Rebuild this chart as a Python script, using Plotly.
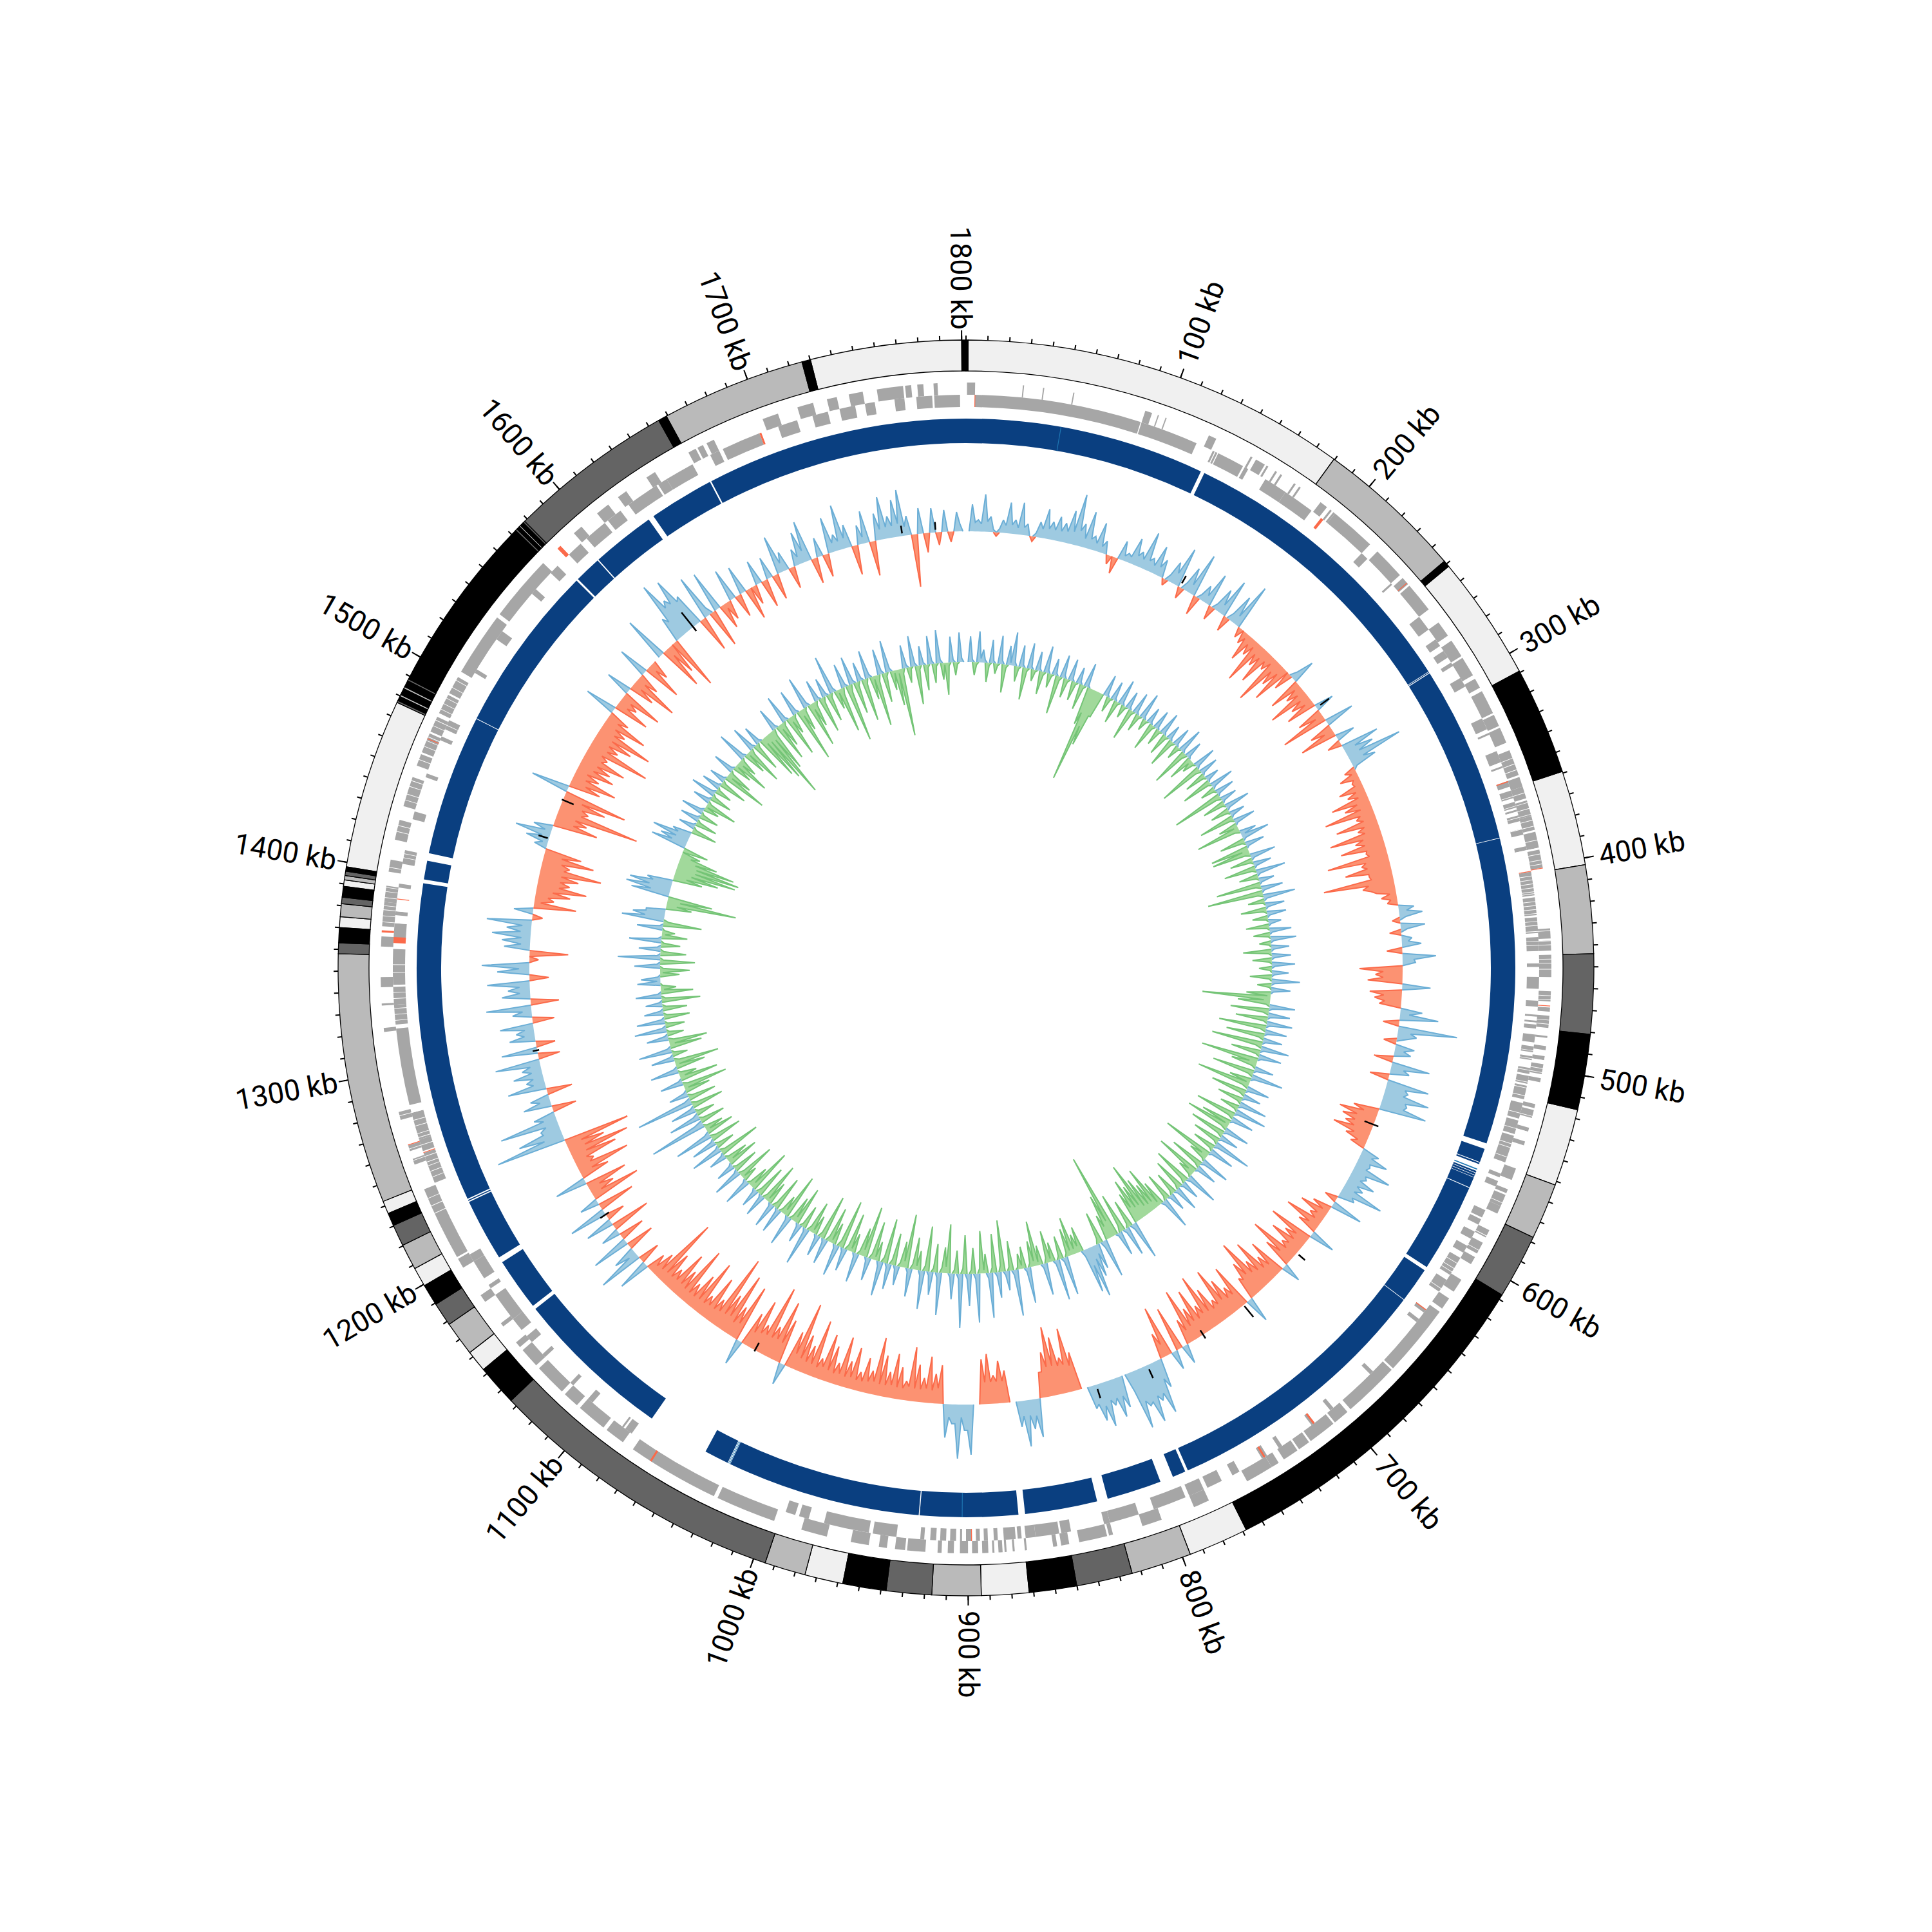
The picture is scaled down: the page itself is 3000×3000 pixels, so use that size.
import math
import plotly.graph_objects as go

GENOME_KB = 1806
TICK_SCALE_KB = 1802
STEP_KB = 2

band_colors = {"n": "#f0f0f0", "g": "#bababa", "d": "#646464", "k": "#000000"}
bands = [
 (0,1,"k"),(1,180,"n"),(180,249,"g"),(249,252,"k"),(252,310,"n"),(310,360,"k"),(360,404,"n"),(404,445,"g"),(445,482,"d"),
 (482,517,"k"),(517,553,"n"),(553,579,"g"),(579,609,"d"),(609,770,"k"),(770,798,"n"),(798,826,"g"),(826,852,"d"),
 (852,874,"k"),(874,896,"n"),(896,918.7,"g"),(918.7,939.7,"d"),(939.7,959.8,"k"),(959.8,977.6,"n"),(977.6,996.6,"g"),
 (996.6,1136,"d"),(1136,1155,"k"),(1155,1165,"n"),(1165,1181,"g"),(1181,1192,"d"),(1192,1202,"k"),(1202,1211,"n"),
 (1211,1223,"g"),(1223,1233,"d"),(1233,1239,"k"),(1239,1245,"n"),(1245,1361,"g"),(1361,1366,"d"),(1366,1373,"k"),
 (1373,1378,"n"),(1378,1384,"g"),(1384,1387,"d"),(1387,1392,"k"),(1392,1395,"n"),(1395,1397,"g"),(1397,1399,"d"),
 (1399,1401,"k"),(1401,1480,"n"),(1480,1481,"d"),(1481,1483,"k"),(1483,1484,"g"),(1484,1487,"k"),(1487,1488,"g"),
 (1488,1491,"k"),(1491,1492,"d"),(1492,1576,"k"),(1576,1577,"d"),(1577,1578.5,"k"),(1578.5,1579.3,"g"),(1579.3,1581,"k"),
 (1581,1582,"d"),(1582,1659,"d"),(1659,1663,"k"),(1663,1730,"g"),(1730,1734,"k"),(1734,1804,"n"),(1804,1806,"k"),
]

gene_plus = [
 (0.5,4.5),(28,28.6),(38,38.6),(53,53.6),(89.5,93),(96,96.6),(100,100.6),(123,127),(146,147),(149,154),(155,156),(160,161),
 (163,164),(171,172),(174,175),(187,191),(193,194),(195,196),(196,219),(224,240),(242,246),(247,262),(270,278),(281,287),
 (286,290),(291,301),(303,308),(310,322),(323,329),(330,338),(342,355),(356,361),(361,367),(368,376),(376,383),(384,392),
 (393,402),(432,437),(438,443),(445,456),(463,468),(471,473),(475,481),(485,486),(490,492),(495,497),(499,504),(506,508),
 (519,521),(522,526),(531,533),(538,540),(552,558),(563,565),(566,572),(572,576),(585,589),(592,598),(600,604),(613,620),
 (624,630),(632,668),(669,697),(699,707),(708,722),(723,729),(730,738),(741,745),(745,759),(780,786),(785,788),(805,815),
 (830,832),(833,847),(852,856),(858,860),(873,874),(879,880),(883,884),(885,887),(889,890),(892,895),(897,900),(902,906),
 (909,912),(915,917),(923,932),(933,938),(942,946),(951,960),(972,985),(999,1029),(1031,1077),(1083,1093),(1095,1110),
 (1112,1120),(1122,1138),(1140,1150),(1152,1155),(1165,1167),(1180,1184),(1200,1205),(1206,1243),(1256,1259),(1263,1266),
 (1279,1283),(1323,1325),(1336,1337),(1345,1350),(1365,1370),(1375,1387),(1387,1395),(1402,1408),(1418,1428),(1435,1450),
 (1456,1462),(1463,1473),(1474,1482),(1484,1494),(1495,1504),(1507,1539),(1541,1574),(1595,1600),(1610,1617),(1623,1628),
 (1640,1645),(1664,1668),(1669,1672),(1674,1678),(1704,1712),(1722,1730),(1737,1742),(1748,1755),(1762,1775),(1776,1779),
 (1782,1785),(1790,1792),
]
gene_minus = [
 (4.5,89),(89.5,119),(128,129),(129.5,130.5),(131,145),(146,148),(158,170),(170,186),(219,223),(240,241),(262,270),(276,280),
 (283,287),(290,292),(299,304),(322,328),(330,331),(340,346),(348,349),(356,359),(361,365),(367,370),(371,372),(374,377),
 (381,384),(390,392),(403,415),(416,425),(426,434),(436,443),(449,451),(456,462),(468,471),(475,476),(478,479),(480,482),
 (485,489),(491,494),(496,498),(502,505),(506,510),(511,518),(520,528),(529,536),(537,551),(557,559),(561,564),(577,581),
 (582,585),(589,593),(597,601),(604,614),(617,624),(635,637),(641,643),(676,678),(703,705),(715,717),(735,737),(744,747),
 (760,764),(770,778),(780,788),(790,807),(815,830),(830,833),(850,855),(856,868),(868,873),(875,877),(878,884),(887,889),
 (892,894),(896,898),(900,903),(905,906),(908,911),(913,916),(918,921),(924,926),(938,950),(952,975),(983,988),(990,995),
 (1082,1086),(1087,1088),(1107,1110),(1120,1122),(1140,1142),(1150,1154),(1158,1165),(1165,1180),(1184,1186),(1190,1200),
 (1200,1204),(1244,1260),(1261,1267),(1267,1281),(1285,1324),(1326,1336),(1336,1345),(1346,1364),(1369,1377),(1381,1383),
 (1395,1397),(1407,1414),(1430,1434),(1452,1454),(1472,1474),(1478,1483),(1510,1512),(1530,1535),(1559,1562),(1573,1578),
 (1586,1594),(1598,1610),(1612,1620),(1625,1642),(1643,1648),(1648,1663),(1673,1678),(1680,1700),(1710,1720),(1728,1736),
 (1742,1750),(1755,1760),(1770,1775),(1781,1789),(1790,1803),
]
trna_plus = [(245,245.4),(402,402.4),(470,470.4),(1066,1067),(1266,1266.4),(1372,1373),(1584,1586),(1470,1470.4)]
trna_minus = [(4.3,4.7),(192,193.5),(356,356.6),(402.6,403),(635,635.5),(715,716),(745,746),(900,900.4),(1367,1370),(1260,1260.4),(1700,1701),(1389,1389.4)]
gene_stripes_kb = [
 346,349,352,364,369,372,375,378,381,388,392,395,398,400,405,407,409,411,413,414,418,420,422,424,428,430,433,438,440,447,449,452,
 465,467,477,479,493,497,501,503,509,512,516,525,533,541,543,548,570,588,596,607,610,612,622,1230,1234,1238,1247,1250,1253,1255,
 1258,1264,1268,1270,1274,1277,1281,1328,1331,1334,1339,1342,1352,1356,1377,1380,1383,1385,1389,1392,1394,1398,1404,1410,1412,
 1422,1425,1438,1441,1445,1448,1459,1466,1469,1471,1477,1480,1486,1489,1492,1498,1502,
]

ring_blocks = [
 (0,127),(129,287.7),(288,288.4),(288.8,382.7),(383,545),(548,555.3),(555.7,556.5),(560.3,561.2),(561.5,562.5),
 (562.8,563.8),(564,569.6),(570,617),(619,637.7),(638,783.5),(785,792),(799,828),(833.7,872),(875.5,927.3),(927.8,1030.5),
 (1032,1045),(1078,1162),(1164,1192),(1195,1228),(1228.6,1229.2),(1229.8,1399),(1401,1411),(1415,1489.7),(1490,1579.5),
 (1580.5,1594.7),(1595.3,1629),(1632,1666.6),(1667.4,1806),
]
ring_marks = [(49.8,50.2),(904.8,905.2),(559,559.6),(1030.7,1031),(1031.4,1031.7)]

# outer signal: one value every 2 kb, blue outward, orange inward
signal_a = [
 0,0,42,14,18,12,58,16,24,4,-6,6,20,12,48,14,22,10,50,12,18,0,-8,6,24,14,46,16,28,16,38,16,30,18,52,20,80,24,36,14,58,16,22,12,46,10,20,0,-14,0,
 -26,0,30,8,14,10,42,16,24,14,60,16,22,12,46,14,28,0,-10,10,34,18,62,0,-18,12,40,14,68,0,-30,8,26,12,52,0,-22,10,38,14,60,0,-24,12,46,14,72,0,-16,0,
 -20,-8,-44,-12,-28,-10,-70,-16,-34,-16,-58,-14,-26,-10,-80,-18,-40,-14,-62,0,-30,12,38,0,-52,-10,-30,-12,-66,-14,-34,-12,-48,0,30,0,-40,-12,-74,0,46,0,-36,-14,-58,0,30,0,-22,0,
 60,18,46,20,88,22,40,6,-18,-8,-30,-10,-14,-12,-40,-14,-30,-14,-60,-20,-42,-18,-78,-22,-30,-20,-66,-22,-34,-24,-82,-30,-44,-30,-70,-30,-32,-28,-96,-36,-44,-36,-72,-36,-36,-34,-110,-40,-50,-38,
 -30,-10,-24,-10,-16,0,24,12,36,10,-12,0,38,10,-18,0,16,10,30,0,-24,0,52,18,20,0,-67,-30,-42,-30,-54,0,44,0,-50,-28,-42,-26,-34,0,34,14,60,0,-25,0,92,20,30,14,
 -20,0,30,14,26,0,-30,0,60,20,30,0,-30,0,66,30,36,30,72,36,40,36,74,0,-40,-22,-60,-30,-52,-30,-44,-28,-60,-24,-36,-14,-24,0,28,18,46,20,22,18,60,22,26,18,44,18,
 30,18,68,20,26,0,-20,0,50,0,-30,-10,-46,-14,-24,-12,-60,-16,-32,0,40,0,-70,-20,-38,-18,-56,-20,-30,-18,-78,-22,-46,0,30,0,-60,-20,-40,-22,-76,-26,-48,-30,-90,-34,-58,-30,-36,0,
 40,0,-70,-24,-40,-24,-60,-28,-84,-26,-36,-24,-62,-26,-90,-28,-44,-24,-76,-26,-50,-22,-86,-20,-40,0,30,0,-70,0,30,0,-80,-20,-40,0,46,30,84,50,60,50,90,56,60,50,92,30,0,0,
 50,30,62,30,40,30,70,36,58,30,36,0,0,0,-60,-40,-100,-44,-56,-44,-90,-46,-108,-46,-70,-40,-40,0,60,26,46,24,72,24,40,0,0,0,-50,-34,-66,-34,-44,-34,-78,-34,-70,0,0,0,
 78,40,40,20,84,30,30,20,52,0,-60,-24,-46,-20,-72,-22,-38,-20,-58,-20,-84,-22,-30,-18,-50,-18,-70,-20,-40,-18,-64,-18,-90,-20,-36,-18,-54,-16,-30,-16,-66,-18,-42,-16,-78,-18,-34,-16,-58,-18,
 -74,-20,-32,-16,-90,-18,-46,-18,-60,-20,-108,-24,-58,0,34,0,-70,-30,-96,-32,-50,-30,-112,-30,-44,-28,-80,-24,-54,0,40,0,-90,-24,-50,-20,-100,-26,-60,-24,-120,-22,-40,-20,-72,-20,-34,-18,-88,-18,
 -58,-16,-36,-16,-92,-16,-46,-18,-70,-18,-34,-16,-56,-16,-110,-14,-40,-12,-30,0,50,0,-34,0,70,12,36,0,-44,0,60,0,-40,0,30,0,-62,0,44,0,-30,0,60,0,-58,0,30,0,-78,-16,
 -40,-18,-66,0,50,0,-46,-20,-84,-22,-30,-20,-72,-24,-96,-26,-60,-24,-104,0,110,30,70,28,30,20,92,20,34,0,-38,0,44,16,30,0,-40,0,60,18,28,16,46,16,30,16,70,0,-34,0,
 56,0,-30,0,40,16,28,14,52,0,-34,0,30,14,70,0,-44,0,44,16,34,16,66,0,-30,0,50,16,74,0,-14,0,-60,0,40,14,44,14,60,16,38,14,70,0,-16,0,30,0,-66,-10,
 -30,-20,-54,-26,-78,-34,-50,-34,-62,-34,-96,-36,-44,-30,-80,-28,-58,0,20,8,36,12,56,10,30,0,-70,-30,-50,-30,-130,-36,-46,-34,-70,-30,-100,0,60,0,-50,-24,-72,-20,-40,-18,-60,-24,-50,-26,
 -70,-28,-36,-24,-100,-28,-44,-26,-62,-26,-90,-24,-40,-20,-70,-18,-34,0,50,0,-56,-16,-30,-16,-66,0,40,0,-40,-14,-74,-14,-34,0,48,0,-60,-12,-30,0,0,0,70,0,-70,-14,-50,0,-84,0,
 40,30,96,50,60,50,88,46,52,0,-56,0,70,12,-60,0,64,0,-40,-8,-30,0,50,0,-36,0,44,0,-50,0,-30,0,38,0,-44,0,34,0,-40,0,60,14,30,0,-34,0,26,12,50,18,
 64,0,-40,0,30,0,-36,0,56,14,26,14,70,16,36,0,-46,0,30,10,50,0,-54,0,42,16,66,18,34,18,58,20,72,14,30,0,-82,0,40,0,-30,0,38,0,-20,0,34,0,-16,0,
 30,12,0,
]
# inner signal: one value every 2 kb, blue outward, green inward
signal_b = [
 0,0,40,4,-20,-4,48,6,20,4,-30,-4,36,4,-16,-3,44,6,-44,-5,30,4,52,6,-24,-4,34,4,-50,-5,40,4,-18,-3,30,4,-36,-5,42,5,-22,-3,26,4,-60,-6,36,5,-30,-4,
 34,4,-30,-4,26,4,-40,-5,38,3,-60,-40,-150,-60,-90,-40,-40,0,34,4,-24,-3,30,4,-36,-4,40,5,-20,-3,28,4,-50,-5,34,4,-28,-4,42,5,-18,-3,26,4,-44,-5,30,4,-26,-3,
 36,5,-34,-4,24,4,-46,-5,30,4,-22,-3,40,5,-60,-8,28,4,-40,-6,-20,-3,36,5,-70,-8,30,4,-34,-4,22,4,-48,-5,38,5,-24,-3,30,4,-80,-8,26,4,-36,-4,40,5,-30,-4,
 24,4,-56,-6,34,4,-30,-6,-70,-8,26,6,44,5,-40,-5,30,4,-60,-10,-60,-8,40,5,-36,-4,28,4,-50,-6,46,5,-30,-4,24,4,-70,-8,34,4,-87,-8,50,5,-26,-3,30,4,-40,-5,
 30,4,-24,-3,20,4,-36,-4,34,4,-26,-3,40,5,-18,-3,28,4,-44,-5,30,4,-30,-4,36,5,-20,-3,26,4,-34,-4,44,5,-22,-3,30,4,-38,-5,-106,-10,-50,-6,40,5,-60,-8,34,4,
 -50,-6,40,5,-74,-8,34,4,-60,-8,30,4,-80,-10,44,5,-46,-6,36,5,-90,-12,-40,-6,30,4,-66,-8,50,5,-34,-5,-84,-10,36,4,-56,-8,28,4,-40,-6,44,5,-30,-5,50,5,-64,-8,
 36,4,-48,-6,-70,-10,40,5,-56,-8,30,4,-44,-6,60,6,-36,-5,40,5,-80,-10,-30,-5,46,5,-54,-8,34,4,-70,-10,-26,-4,52,6,-60,-8,30,4,-50,-8,40,5,-36,-6,28,4,-44,-6,
 50,6,-40,-6,-70,-12,-46,-12,-60,-14,-90,-20,-56,-20,-70,-24,-50,0,60,8,-44,-6,46,6,-62,-10,38,4,-134,-26,-70,-20,-40,0,60,10,-50,-8,40,14,50,20,80,28,70,10,-40,-10,-30,-8,
 -60,-8,-44,-6,60,6,-36,-5,64,6,-30,-5,-50,-8,50,6,-30,-5,-70,-8,-40,-6,56,6,-34,-5,-24,-3,72,8,-46,-6,30,6,-80,-10,40,6,-60,-8,70,8,-30,-5,-66,-8,76,8,-40,-6,
 50,8,-60,-8,84,8,-36,-6,40,6,-76,-10,-40,-8,66,8,-44,-6,36,6,-70,-8,60,8,-30,-6,-50,-8,44,6,-84,-10,-40,-6,30,6,-50,-8,40,6,-70,-8,54,8,-30,-5,-60,-8,36,6,
 -80,-10,-44,-6,46,6,-30,-5,-60,-8,36,6,-76,-10,50,6,-34,-5,-56,-8,40,6,-70,-8,34,5,-30,-5,-50,-8,60,6,-36,-5,30,5,-60,-8,-40,-6,48,6,-70,-8,-30,-5,40,5,-54,-8,
 40,5,-36,-5,-64,-8,36,5,-50,-8,30,5,-70,-8,-34,-5,44,6,-24,-4,-60,-8,46,6,-40,-5,30,5,-50,-8,-36,-5,28,5,-66,-8,50,6,-30,-5,40,5,-50,-8,60,8,-44,-6,-30,-5,
 90,14,-40,-6,50,8,-30,-5,40,6,-50,-8,90,10,-44,-6,30,5,-40,-6,-70,-8,36,5,-60,-8,-28,-4,44,6,-46,-6,-70,-8,36,5,-24,-4,52,6,-50,-8,-60,-8,34,5,-26,-4,50,6,
 -30,-4,44,5,-40,-5,30,5,-38,-5,26,4,-60,-6,40,5,-50,-5,-24,-3,36,5,30,4,-30,-4,-46,-5,40,5,-54,-5,66,5,-40,-5,34,5,-30,-4,50,6,-40,-5,-20,-3,40,5,-60,-8,
 66,30,50,30,30,0,-40,-16,-109,-20,-70,0,60,30,70,34,66,30,40,0,-46,-20,-70,-26,-96,-30,-100,-30,-90,-26,-60,-16,-30,0,-40,0,56,24,44,20,60,20,30,0,-40,-5,26,4,-34,-5,
 30,4,-30,-4,36,5,-24,-3,-50,-6,28,4,-34,-5,40,5,-26,-4,30,4,-44,-6,26,4,-70,-8,-40,-5,34,4,-30,-4,-56,-8,-30,-5,48,5,-36,-5,-60,-8,40,5,-46,-6,30,4,-70,-10,
 -80,-12,-113,-14,-70,-10,36,4,-60,-8,-40,-6,44,5,-64,-8,-30,-5,40,5,-84,-10,-36,-5,50,6,-70,-10,-40,-6,34,4,-56,-8,30,4,-44,-6,60,6,-30,-5,-70,-10,38,4,-90,-12,44,5,
 -50,-6,30,4,-66,-8,44,5,-36,-5,-80,-10,40,5,-46,-6,50,5,-30,-4,-56,-6,-105,-8,36,4,-24,-3,48,5,-60,-6,30,4,-40,-5,44,5,-30,-4,52,5,-26,-3,-50,-5,40,4,-20,-3,
 46,6,0,
]
outlier_kb = [147,268,557,656,705,738,780,816,1048,1182,1300,1441,1468,1612,1764,1786]
outlier_lo = [685,685,663,682,680,670,685,685,665,672,675,680,660,670,682,682]
outlier_hi = [698,702,686,695,702,685,700,700,680,688,685,695,680,707,694,694]

tick_labels_kb = [100*i for i in range(1, 19)]
minor_ticks_kb = list(range(0, 1801, 10))

BASE_A, BASE_B = 678, 475
BLUE_LINE, BLUE_FILL = "#6baed6", "#9ecae1"
RED_LINE, RED_FILL = "#fb6a4a", "#fc9272"
GREEN_LINE, GREEN_FILL = "#74c476", "#a1d99b"


def th(kb):
    return kb * 360.0 / GENOME_KB


def tick_th(kb):
    return kb * 360.0 / TICK_SCALE_KB


def ring(blocks, inner, outer, color, line_color=None, line_width=0):
    return go.Barpolar(
        theta=[th((s + e) / 2) for s, e in blocks],
        width=[th(e - s) for s, e in blocks],
        base=[inner] * len(blocks), r=[outer - inner] * len(blocks),
        marker=dict(color=color, line=dict(color=line_color or color, width=line_width)),
        hoverinfo="skip", showlegend=False)


def signal_traces(values, base, sign, line_color, fill_color):
    runs, cur = [], []
    for i, v in enumerate(values):
        if v * sign > 0:
            if not cur and i > 0:
                cur.append(i - 1)
            cur.append(i)
        elif cur:
            cur.append(i)
            runs.append(cur)
            cur = []
    if cur:
        runs.append(cur)
    lt, lr, pt, pr = [], [], [], []
    for run in runs:
        xs = [th(i * STEP_KB) for i in run]
        ys = [base + (values[i] if values[i] * sign > 0 else 0) for i in run]
        lt += xs + [None]
        lr += ys + [None]
        pt += xs + xs[::-1] + [None]
        pr += ys + [base] * len(xs) + [None]
    fill = go.Scatterpolar(theta=pt, r=pr, mode="lines", fill="toself", fillcolor=fill_color,
                           line=dict(width=0, color=fill_color), hoverinfo="skip", showlegend=False)
    line = go.Scatterpolar(theta=lt, r=lr, mode="lines", line=dict(width=2, color=line_color),
                           hoverinfo="skip", showlegend=False)
    return [fill, line]


def radial_lines(thetas, lo, hi, color, width):
    t, r = [], []
    for k, a, b in zip(thetas, lo, hi):
        t += [k, k, None]
        r += [a, b, None]
    return go.Scatterpolar(theta=t, r=r, mode="lines", line=dict(color=color, width=width),
                           hoverinfo="skip", showlegend=False)


fig = go.Figure()
for code, color in band_colors.items():
    fig.add_trace(ring([(s, e) for s, e, c in bands if c == code], 927, 975, color, "#000000", 1.3))
fig.add_trace(ring(gene_plus, 890, 909, "#a6a6a6"))
fig.add_trace(ring(gene_minus, 871, 890, "#a6a6a6"))
fig.add_trace(ring([(k, k + 0.3) for k in gene_stripes_kb], 870, 910, "#ffffff"))
fig.add_trace(ring(trna_plus, 890, 909, "#fb6a4a"))
fig.add_trace(ring(trna_minus, 871, 890, "#fb6a4a"))
fig.add_trace(ring(ring_blocks, 815, 853, "#0a3f80"))
fig.add_trace(ring(ring_marks, 815, 853, "#1f78b4"))
for tr in signal_traces(signal_a, BASE_A, 1, BLUE_LINE, BLUE_FILL):
    fig.add_trace(tr)
for tr in signal_traces(signal_a, BASE_A, -1, RED_LINE, RED_FILL):
    fig.add_trace(tr)
for tr in signal_traces(signal_b, BASE_B, 1, BLUE_LINE, BLUE_FILL):
    fig.add_trace(tr)
for tr in signal_traces(signal_b, BASE_B, -1, GREEN_LINE, GREEN_FILL):
    fig.add_trace(tr)
fig.add_trace(radial_lines([th(k) for k in outlier_kb], outlier_lo, outlier_hi, "#000000", 2.5))
fig.add_trace(radial_lines([tick_th(k) for k in minor_ticks_kb], [975] * len(minor_ticks_kb), [982] * len(minor_ticks_kb), "#000000", 2))
fig.add_trace(radial_lines([tick_th(k) for k in tick_labels_kb], [975] * 18, [990] * 18, "#000000", 2))

CX, CY, SIZE = 1492, 1495, 2980
annotations = []
for kb in tick_labels_kb:
    a = tick_th(kb)
    rr = 1072 if kb >= 1000 else 1066
    x = (CX + rr * math.sin(math.radians(a))) / 3000
    y = 1 - (CY - rr * math.cos(math.radians(a))) / 3000
    ang = a - 90 if a < 180 else a - 270
    annotations.append(dict(x=x, y=y, xref="paper", yref="paper", text=f"{kb} kb", showarrow=False,
                            textangle=ang, xanchor="center", yanchor="middle",
                            font=dict(family="Roboto, sans-serif", size=45, color="#000000")))

fig.update_layout(
    width=3000, height=3000, margin=dict(l=0, r=0, t=0, b=0), paper_bgcolor="#ffffff", showlegend=False,
    annotations=annotations,
    polar=dict(
        domain=dict(x=[(CX - SIZE / 2) / 3000, (CX + SIZE / 2) / 3000],
                    y=[1 - (CY + SIZE / 2) / 3000, 1 - (CY - SIZE / 2) / 3000]),
        bgcolor="#ffffff", barmode="overlay", bargap=0,
        angularaxis=dict(visible=False, direction="clockwise", rotation=90, showgrid=False),
        radialaxis=dict(visible=False, range=[0, SIZE / 2], showgrid=False),
    ),
)
fig.write_html("out.html")
